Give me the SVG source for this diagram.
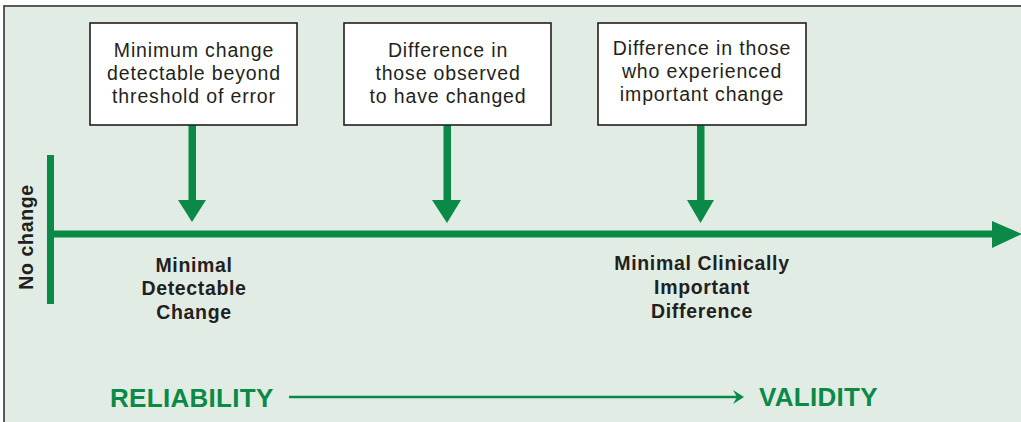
<svg xmlns="http://www.w3.org/2000/svg" width="1021" height="422" viewBox="0 0 1021 422">
<style>
.box{fill:#ffffff;stroke:#231f20;stroke-width:1.6}
.bt{font-family:"Liberation Sans",Arial,sans-serif;font-size:19.5px;fill:#231f20;text-anchor:middle;letter-spacing:0.85px}
.lb{font-family:"Liberation Sans",Arial,sans-serif;font-size:19.5px;font-weight:bold;fill:#231f20;text-anchor:middle;letter-spacing:0.65px}
.big{font-family:"Liberation Sans",Arial,sans-serif;font-size:26px;font-weight:bold;fill:#0b8a47;letter-spacing:0.3px}
.g{fill:#0b8a47}
.gs{stroke:#0b8a47;fill:none}
</style>
<rect x="0" y="0" width="1021" height="422" fill="#ffffff"/>
<rect x="4" y="6" width="1030" height="430" fill="#e1ede4" stroke="#333333" stroke-width="1.6"/>

<g id="connectors">
  <!-- main axis -->
  <rect class="g" x="47" y="230.5" width="946" height="7"/>
  <path class="g" d="M992,221 L1022,234 L992,248 Z"/>
  <!-- no change bar -->
  <rect class="g" x="47" y="155" width="7" height="149"/>
  <!-- vertical arrows -->
  <rect class="g" x="188.5" y="125" width="7.5" height="77"/>
  <path class="g" d="M178,200 L206,200 L192,222 Z"/>
  <rect class="g" x="443.5" y="125" width="7.5" height="77"/>
  <path class="g" d="M432,200 L461,200 L447,223 Z"/>
  <rect class="g" x="697" y="125" width="7.5" height="77"/>
  <path class="g" d="M687,200 L714,200 L700.5,223 Z"/>
  <!-- reliability to validity -->
  <line class="gs" x1="289" y1="397" x2="740" y2="397" stroke-width="2.5"/>
  <path class="g" d="M733,390 L744,397 L733,404 L737,397 Z"/>
</g>

<g id="node-mdc-box">
  <rect class="box" x="90" y="23" width="207" height="102"/>
  <text class="bt" x="194" y="57">Minimum change</text>
  <text class="bt" x="194" y="80">detectable beyond</text>
  <text class="bt" x="194" y="103">threshold of error</text>
</g>
<g id="node-observed-box">
  <rect class="box" x="344" y="23" width="207" height="102"/>
  <text class="bt" x="448" y="57">Difference in</text>
  <text class="bt" x="448" y="80">those observed</text>
  <text class="bt" x="448" y="103">to have changed</text>
</g>
<g id="node-important-box">
  <rect class="box" x="598" y="23" width="208" height="102"/>
  <text class="bt" x="702" y="55">Difference in those</text>
  <text class="bt" x="702" y="78">who experienced</text>
  <text class="bt" x="702" y="101">important change</text>
</g>

<g id="node-no-change">
  <text class="lb" transform="translate(33,237) rotate(-90)" x="0" y="0">No change</text>
</g>
<g id="node-mdc">
  <text class="lb" x="194" y="272">Minimal</text>
  <text class="lb" x="194" y="295">Detectable</text>
  <text class="lb" x="194" y="319">Change</text>
</g>
<g id="node-mcid">
  <text class="lb" x="702" y="270">Minimal Clinically</text>
  <text class="lb" x="702" y="294">Important</text>
  <text class="lb" x="702" y="318">Difference</text>
</g>
<g id="node-reliability">
  <text class="big" x="110" y="407">RELIABILITY</text>
</g>
<g id="node-validity">
  <text class="big" x="759" y="406">VALIDITY</text>
</g>
</svg>
